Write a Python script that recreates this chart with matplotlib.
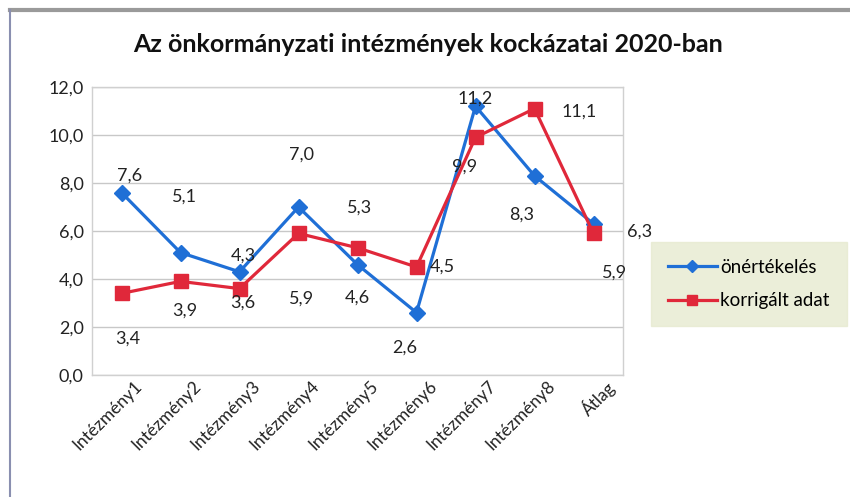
import matplotlib
matplotlib.use("Agg")
import matplotlib.pyplot as plt
from matplotlib.lines import Line2D
import matplotlib.transforms as mtrans

categories = ["Intézmény1", "Intézmény2", "Intézmény3", "Intézmény4", "Intézmény5",
              "Intézmény6", "Intézmény7", "Intézmény8", "Átlag"]
onertekeles = [7.6, 5.1, 4.3, 7.0, 4.6, 2.6, 11.2, 8.3, 6.3]
korrigalt = [3.4, 3.9, 3.6, 5.9, 5.3, 4.5, 9.9, 11.1, 5.9]
yticks = [0, 2, 4, 6, 8, 10, 12]

# label offsets in pixels (dx, dy)
blue_off = [(8, 17), (4, 56), (4, 16), (3, 52), (0, -33), (-12, -35), (0, 8), (-13, -39), (46, -8)]
red_off = [(6, -45), (4, -29), (3, -14), (3, -65), (2, 40), (26, 0), (-11, -29), (45, -3), (21, -39)]

plt.rcParams['font.family'] = ['Lato', 'DejaVu Sans']

fig = plt.figure(figsize=(8.5, 4.97), dpi=100)
fig.patch.set_facecolor('white')

# outer chart frame (top and left edges visible)
fig.add_artist(Line2D([10/850, 1.0], [1-10/497, 1-10/497], transform=fig.transFigure,
                      color='#9a9a9a', lw=3))
fig.add_artist(Line2D([10/850, 10/850], [0, 1-10/497], transform=fig.transFigure,
                      color='#8a8fb0', lw=1.5))

ax = fig.add_axes([92/850, 1-375/497, (623-92)/850, (375-87)/497])
x = list(range(len(categories)))
blue = '#1f6fd6'
red = '#e0283a'
ax.plot(x, onertekeles, color=blue, lw=2.3, marker='D', markersize=8, zorder=3,
        label='önértékelés')
ax.plot(x, korrigalt, color=red, lw=2.3, marker='s', markersize=10, zorder=3,
        label='korrigált adat')

fmt = lambda v: f"{v:.1f}".replace('.', ',')
for i, v in enumerate(onertekeles):
    ax.annotate(fmt(v), (i, v), xytext=blue_off[i], textcoords='offset pixels',
                ha='center', va='center', fontsize=13, color='#222222', zorder=4)
for i, v in enumerate(korrigalt):
    ax.annotate(fmt(v), (i, v), xytext=red_off[i], textcoords='offset pixels',
                ha='center', va='center', fontsize=13, color='#222222', zorder=4)

ax.set_xlim(-0.5, len(categories) - 0.5)
ax.set_ylim(0, 12)
ax.set_yticks(yticks)
ax.set_yticklabels([fmt(v) for v in yticks], fontsize=13, color='#222222')
ax.yaxis.grid(True, color='#c8c8c8', lw=1)
ax.set_axisbelow(True)
ax.tick_params(axis='y', length=0, pad=6)
ax.set_xticks(x)
ax.set_xticklabels(categories, rotation=45, ha='right', rotation_mode='anchor',
                   fontsize=12.5, color='#222222')
ax.tick_params(axis='x', length=0, pad=2)
off = mtrans.ScaledTranslation(12/100, 0, fig.dpi_scale_trans)
for lab in ax.get_xticklabels():
    lab.set_transform(lab.get_transform() + off)
for s in ax.spines.values():
    s.set_color('#d0d0d0')
    s.set_linewidth(1)

fig.text(428/850, 1-45/497, "Az önkormányzati intézmények kockázatai 2020-ban",
         ha='center', va='center', fontsize=18, fontweight='bold', color='#111111')

leg = fig.legend(handles=ax.get_lines(), loc='center left',
                 bbox_to_anchor=(651/850, 1-284/497), frameon=True, fontsize=13.5,
                 handlelength=2.6, borderpad=0.9, labelspacing=0.9, handletextpad=0.2,
                 borderaxespad=0, markerscale=0.75)
leg.get_frame().set_facecolor('#e6ead0')
leg.get_frame().set_edgecolor('#e6ead0')
leg.get_frame().set_boxstyle('square', pad=0)

fig.savefig("out.png", dpi=100)
